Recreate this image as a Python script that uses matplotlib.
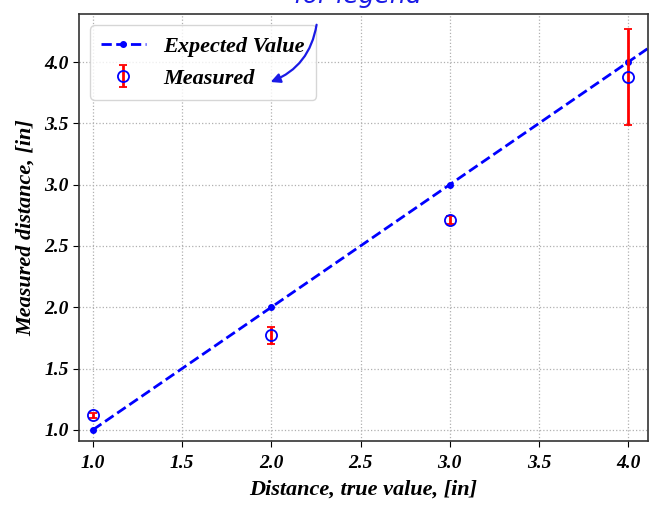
import matplotlib
matplotlib.use('Agg')
import matplotlib.pyplot as plt

# true distances and what was measured
true_dist = [1.0, 2.0, 3.0, 4.0, 5.0]
expected = [1.0, 2.0, 3.0, 4.0, 5.0]
meas_x = [1.0, 2.0, 3.0, 4.0]
meas_y = [1.12, 1.77, 2.71, 3.88]
meas_err = [0.02, 0.07, 0.03, 0.39]
ticks = [1.0, 1.5, 2.0, 2.5, 3.0, 3.5, 4.0]

plt.rcParams['font.family'] = 'Liberation Serif'
plt.rcParams['font.weight'] = 'bold'
plt.rcParams['font.style'] = 'italic'
plt.rcParams['axes.labelweight'] = 'bold'

fig = plt.figure(figsize=(6.53, 5.08), dpi=100)
ax = fig.add_axes([0.121, 0.131, 0.871, 0.841])

ax.plot(true_dist, expected, 'b.--', linewidth=2, markersize=8, label='Expected Value')
ax.errorbar(meas_x, meas_y, yerr=meas_err, fmt='o', color='b', mfc='none', markersize=8,
            mew=1.3, ecolor='r', elinewidth=2, capsize=3, capthick=1.5, label='Measured')

ax.set_xlim(0.922, 4.11)
ax.set_ylim(0.905, 4.39)
ax.set_xticks(ticks)
ax.set_yticks(ticks)
ax.tick_params(labelsize=14, direction='out', length=4)
ax.tick_params(axis='x', pad=6)
ax.grid(True, linestyle=':', color='#b0b0b0', linewidth=0.9)
ax.set_xlabel('Distance, true value, [in]', fontsize=16, labelpad=5)
ax.set_ylabel('Measured distance, [in]', fontsize=16, labelpad=6)
ax.legend(loc='upper left', fontsize=16, framealpha=0.8, borderpad=0.5,
          handlelength=2.0, borderaxespad=0.5)
for s in ax.spines.values():
    s.set_linewidth(1.2)
    s.set_color('#333333')

# handwritten note on top
fig.text(0.45, 0.985, 'for legend', color='#1a1ae6', fontsize=18, fontstyle='italic',
         fontweight='normal', family='DejaVu Sans', va='bottom')
fig.add_artist(plt.matplotlib.patches.FancyArrowPatch(
    (317 / 653, 1 - 22 / 508), (268 / 653, 1 - 83 / 508), transform=fig.transFigure,
    connectionstyle='arc3,rad=-0.3', arrowstyle='-|>', mutation_scale=14,
    color='#1a1ae6', linewidth=1.6))

fig.savefig('out.png', dpi=100)
